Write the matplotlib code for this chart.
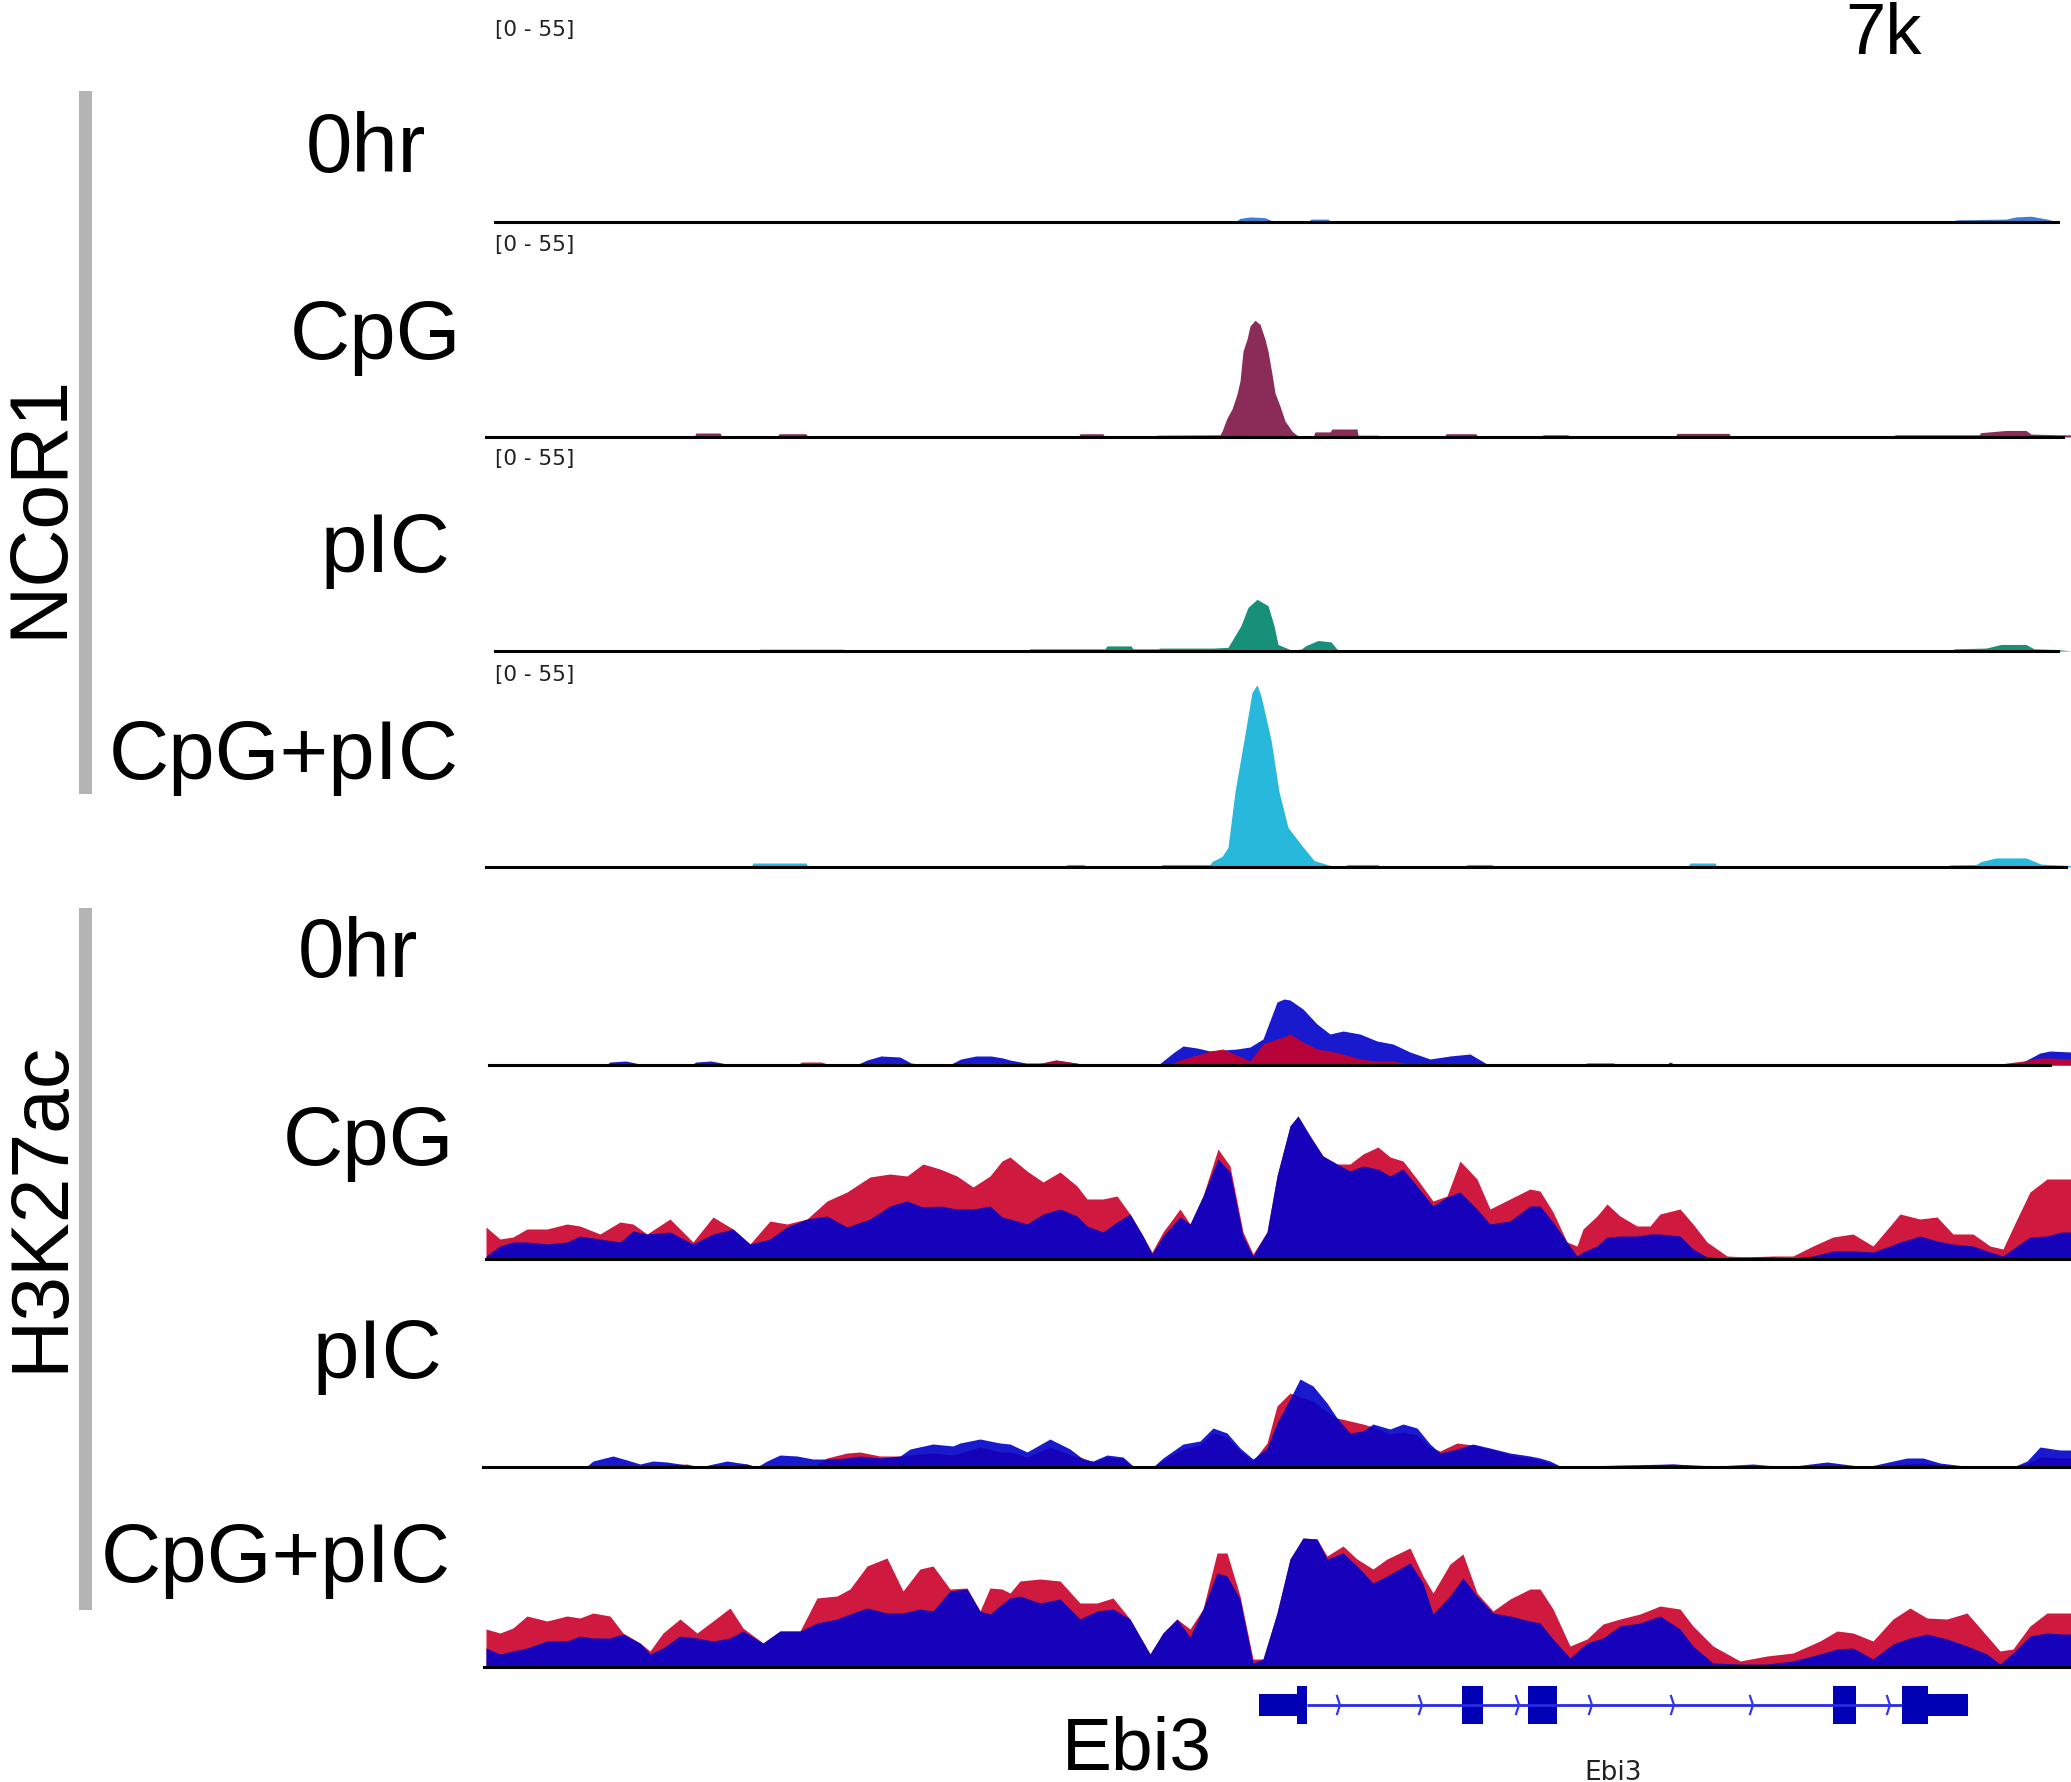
import numpy as np
import matplotlib
matplotlib.use("Agg")
import matplotlib.pyplot as plt
from matplotlib.patches import Rectangle

# ---------------- data (x = genomic bin index across the window) ----------------
# NCoR1 ChIP-seq tracks, scale [0 - 55]
ncor_0hr_pos = [0, 749, 754, 764, 779, 789, 822, 825, 842, 845, 1466, 1470, 1520, 1530, 1545, 1561, 1572, 1585]
ncor_0hr_val = [0, 0, 1.0, 1.4, 1.2, 0, 0, 0.8, 0.8, 0, 0, 0.6, 0.8, 1.4, 1.6, 0.8, 0, 0]

ncor_cpg_pos = [0, 208, 210, 234, 236, 291, 293, 320, 322, 592, 594, 617, 619, 669, 671, 734, 736, 741, 746, 751,
                754, 757, 761, 764, 769, 774, 779, 782, 786, 789, 794, 799, 806, 811, 819, 827, 829, 844, 846, 871,
                872, 892, 894, 958, 960, 990, 992, 1055, 1057, 1082, 1084, 1189, 1191, 1243, 1245, 1407, 1409, 1493,
                1495, 1520, 1540, 1545, 1575, 1585]
ncor_cpg_val = [0, 0, 1.1, 1.1, 0, 0, 0.9, 0.9, 0, 0, 0.9, 0.9, 0, 0, 0.5, 0.6, 1.6, 5.2, 7.7, 11.8,
                15.4, 23.6, 26.9, 30.5, 32.1, 31.0, 26.9, 23.6, 17.3, 12.1, 8.5, 4.4, 1.6, 0.5, 0, 0, 1.4, 1.4, 2.2, 2.2,
                0.5, 0.5, 0, 0, 0.9, 0.9, 0, 0, 0.6, 0.6, 0, 0, 1.0, 1.0, 0, 0, 0.6, 0.6,
                1.2, 1.8, 1.8, 0.8, 0.6, 0.6]

ncor_pic_pos = [0, 272, 274, 357, 359, 542, 544, 619, 621, 645, 647, 672, 674, 727, 742, 755, 762, 771, 782, 788,
                792, 805, 815, 820, 832, 845, 851, 857, 1030, 1032, 1050, 1052, 1466, 1468, 1500, 1515, 1540, 1548,
                1572, 1585]
ncor_pic_val = [0, 0, 0.5, 0.5, 0, 0, 0.6, 0.6, 1.4, 1.4, 0.6, 0.6, 0.8, 0.8, 1.0, 7.0, 12.0, 14.2, 12.5, 7.0,
                1.8, 0.3, 0.5, 1.5, 2.9, 2.5, 0.5, 0, 0, 0.4, 0.4, 0, 0, 0.6, 0.8, 1.8, 1.8, 0.6,
                0.4, 0]

ncor_cp_pos = [0, 265, 267, 320, 322, 579, 581, 598, 600, 674, 676, 724, 726, 736, 742, 749, 758, 766, 771, 775,
               785, 793, 802, 815, 828, 841, 850, 859, 861, 892, 894, 979, 981, 1006, 1008, 1202, 1204, 1229, 1231,
               1462, 1464, 1490, 1495, 1510, 1540, 1555, 1585]
ncor_cp_val = [0, 0, 1.1, 1.1, 0, 0, 0.7, 0.7, 0, 0, 0.7, 0.7, 1.5, 2.9, 5.4, 20.7, 35.0, 48.0, 50.1, 47.0,
               35.0, 20.7, 10.9, 6.2, 1.8, 0.7, 0, 0, 0.7, 0.7, 0, 0, 0.7, 0.7, 0, 0, 1.1, 1.1, 0,
               0, 0.6, 0.7, 1.5, 2.5, 2.5, 0.8, 0.4]

# H3K27ac overlay tracks (red and blue series)
h3_0hr_pos = [0, 120, 124, 140, 154, 160, 205, 210, 225, 241, 250, 310, 316, 335, 345, 370, 381, 395, 414, 425,
              440, 465, 475, 490, 505, 517, 524, 540, 556, 570, 590, 600, 672, 687, 697, 711, 724, 737, 751, 764,
              777, 791, 798, 804, 817, 831, 844, 857, 874, 891, 907, 924, 944, 964, 984, 1001, 1010, 1095, 1101, 1127,
              1135, 1180, 1184, 1190, 1510, 1521, 1537, 1554, 1564, 1585]
h3_0hr_red = [0, 0, 0, 0, 0, 0, 0, 0, 1, 0, 0, 0, 3, 3, 0, 0, 0, 0, 0, 0,
              0, 0, 1, 2, 2, 1, 0, 0, 2, 5, 2, 0, 0, 2, 6, 10, 14, 16, 10, 4,
              21, 26, 28, 31, 23, 16, 14, 11, 6, 4, 4, 1, 0, 0, 0, 0, 0, 0, 0, 0,
              0, 0, 0, 0, 0, 2, 4, 7, 7, 6]
h3_0hr_blue = [0, 0, 3, 4, 1, 0, 0, 3, 4, 1, 0, 0, 1, 1, 0, 0, 5, 9, 8, 2,
               0, 1, 6, 9, 9, 7, 5, 2, 2, 5, 2, 0, 0, 12, 19, 17, 14, 15, 16, 18,
               26, 63, 66, 65, 56, 41, 31, 34, 31, 24, 21, 13, 6, 9, 11, 1, 0, 0, 2, 2,
               0, 0, 3, 0, 0, 1, 3, 12, 14, 13]

h3_cpg_pos = [0, 14, 27, 41, 61, 81, 94, 114, 134, 147, 161, 184, 207, 227, 247, 264, 284, 301, 321, 341,
              361, 384, 404, 421, 437, 454, 471, 487, 504, 516, 524, 541, 557, 574, 591, 601, 617, 631, 644, 657,
              666, 677, 694, 704, 717, 732, 744, 757, 767, 781, 791, 804, 812, 824, 837, 851, 864, 877, 892, 904,
              917, 931, 947, 961, 974, 991, 1004, 1024, 1044, 1054, 1067, 1081, 1091, 1097, 1111, 1121, 1134, 1151,
              1164, 1174, 1194, 1207, 1221, 1241, 1261, 1287, 1307, 1327, 1347, 1367, 1387, 1404, 1414, 1434, 1451,
              1467, 1487, 1504, 1517, 1531, 1544, 1561, 1576, 1585]
h3_cpg_red = [32, 20, 22, 30, 30, 35, 33, 25, 37, 35, 25, 40, 17, 42, 30, 15, 38, 35, 40, 58,
              67, 82, 85, 83, 95, 90, 83, 72, 83, 98, 102, 88, 77, 87, 73, 60, 60, 63, 45, 23,
              7, 27, 50, 35, 63, 110, 93, 27, 5, 27, 83, 133, 143, 123, 103, 95, 95, 105, 112, 102,
              98, 80, 58, 63, 98, 80, 50, 60, 70, 68, 47, 17, 13, 30, 43, 55, 43, 33, 33, 45,
              50, 35, 17, 3, 2, 3, 3, 13, 22, 25, 13, 33, 45, 40, 42, 25, 25, 13, 10, 40,
              67, 80, 80, 80]
h3_cpg_blue = [3, 13, 17, 17, 15, 17, 23, 20, 17, 28, 25, 27, 15, 25, 30, 15, 20, 32, 40, 43,
               32, 40, 53, 58, 52, 53, 50, 50, 53, 42, 40, 35, 45, 50, 43, 33, 27, 37, 45, 23,
               5, 23, 42, 35, 63, 100, 87, 23, 3, 27, 83, 133, 143, 123, 103, 95, 88, 93, 90, 83,
               90, 73, 53, 62, 67, 50, 35, 38, 53, 53, 37, 17, 3, 7, 13, 22, 23, 23, 25, 25,
               23, 10, 2, 1, 2, 2, 1, 3, 8, 8, 7, 13, 17, 23, 18, 15, 13, 7, 3, 13,
               22, 23, 27, 27]

h3_pic_pos = [0, 100, 107, 127, 141, 154, 167, 181, 201, 214, 227, 241, 261, 271, 281, 294, 311, 327, 341, 361,
              374, 394, 414, 424, 447, 467, 474, 494, 514, 524, 541, 564, 584, 597, 607, 621, 637, 647, 657, 667,
              677, 697, 714, 727, 741, 754, 767, 781, 791, 804, 814, 827, 841, 851, 864, 877, 887, 904, 917, 931,
              944, 954, 971, 987, 1004, 1024, 1044, 1054, 1064, 1074, 1100, 1134, 1187, 1230, 1267, 1300, 1341, 1380,
              1421, 1437, 1454, 1487, 1527, 1541, 1554, 1574, 1585]
h3_pic_red = [0, 1, 0, 0, 0, 0, 0, 2, 3, 0, 0, 1, 3, 0, 0, 0, 0, 0, 9, 14,
              15, 11, 11, 12, 14, 12, 14, 20, 15, 15, 10, 20, 12, 9, 5, 10, 8, 1, 0, 0,
              7, 18, 22, 34, 30, 16, 6, 24, 61, 74, 70, 66, 55, 49, 46, 43, 40, 33, 35, 32,
              20, 16, 24, 22, 18, 12, 9, 7, 4, 0, 1, 1, 3, 0, 1, 0, 1, 0,
              3, 4, 2, 1, 0, 3, 10, 9, 9]
h3_pic_blue = [0, 0, 6, 11, 7, 3, 6, 5, 2, 0, 3, 6, 3, 0, 6, 12, 11, 8, 8, 9,
               11, 9, 11, 18, 23, 21, 24, 28, 24, 23, 15, 28, 18, 8, 6, 12, 10, 1, 0, 0,
               9, 23, 26, 39, 34, 19, 8, 19, 44, 68, 88, 81, 64, 49, 34, 36, 43, 38, 43, 39,
               23, 14, 18, 23, 19, 14, 11, 9, 6, 1, 1, 2, 3, 1, 3, 0, 5, 0,
               9, 9, 4, 0, 0, 6, 20, 17, 17]

h3_cp_pos = [0, 14, 27, 41, 61, 81, 94, 107, 124, 137, 154, 164, 177, 194, 211, 227, 244, 257, 277, 294,
             314, 331, 351, 364, 381, 401, 417, 434, 447, 464, 481, 494, 504, 516, 524, 534, 554, 574, 594, 611,
             627, 644, 664, 677, 691, 704, 717, 731, 741, 754, 767, 777, 791, 804, 817, 831, 841, 857, 871, 887,
             901, 924, 937, 947, 964, 977, 991, 1007, 1024, 1044, 1054, 1067, 1084, 1101, 1117, 1134, 1154, 1174,
             1194, 1207, 1227, 1254, 1281, 1307, 1334, 1351, 1367, 1387, 1407, 1424, 1441, 1461, 1481, 1501, 1514,
             1527, 1544, 1561, 1576, 1585]
h3_cp_red = [38, 34, 39, 51, 46, 51, 49, 54, 51, 34, 24, 16, 34, 48, 34, 46, 59, 39, 24, 36,
             36, 69, 71, 78, 101, 109, 76, 98, 101, 78, 79, 56, 79, 78, 74, 86, 88, 86, 64, 64,
             69, 48, 13, 34, 48, 38, 58, 114, 114, 71, 8, 8, 54, 108, 129, 128, 111, 121, 108, 98,
             108, 119, 91, 74, 103, 113, 74, 56, 68, 78, 78, 58, 21, 28, 43, 48, 53, 61, 58, 41,
             21, 6, 11, 14, 26, 36, 34, 26, 48, 59, 49, 48, 54, 31, 16, 18, 41, 54, 54, 54]
h3_cp_blue = [19, 13, 16, 19, 26, 26, 31, 29, 29, 33, 24, 13, 19, 31, 29, 26, 29, 36, 24, 36,
              36, 44, 48, 53, 59, 54, 54, 58, 56, 76, 78, 56, 53, 63, 69, 71, 64, 68, 48, 56,
              58, 48, 13, 34, 48, 30, 58, 94, 91, 68, 4, 8, 54, 108, 129, 128, 108, 114, 101, 84,
              91, 104, 84, 53, 71, 89, 71, 54, 51, 46, 44, 28, 9, 24, 29, 41, 44, 51, 38, 21,
              4, 3, 3, 6, 13, 18, 19, 8, 23, 29, 33, 28, 21, 13, 3, 14, 31, 34, 33, 33]

# Gene model (Ebi3)
gene_utr_blocks = [(773, 811), (1442, 1482)]
gene_cds_blocks = [(811, 821), (976, 997), (1042, 1071), (1347, 1370), (1416, 1442)]
gene_span = (821, 1416)
gene_chevrons = [854, 936, 1033, 1106, 1188, 1267, 1404]

ncor_labels = ["0hr", "CpG", "pIC", "CpG+pIC"]
h3_labels = ["0hr", "CpG", "pIC", "CpG+pIC"]
scale_label = "[0 - 55]"

# ---------------- layout helpers ----------------
W, H = 2071, 1783
fig = plt.figure(figsize=(W / 100, H / 100), dpi=100)
XMAX = 1585


def px_axes(x0, y0, x1, y1):
    ax = fig.add_axes([x0 / W, 1 - y1 / H, (x1 - x0) / W, (y1 - y0) / H])
    ax.set_axis_off()
    ax.set_xlim(0, XMAX)
    return ax


def fx(x):
    return x / W


def fy(y):
    return 1 - y / H


LBL = ["Liberation Sans", "DejaVu Sans"]
LABEL_SIZE = 60

# ---------------- NCoR1 tracks ----------------
ncor_tracks = [
    (ncor_0hr_pos, ncor_0hr_val, "#3F7ED2", 223, 495, 2058),
    (ncor_cpg_pos, ncor_cpg_val, "#8A2B58", 438, 486, 2063),
    (ncor_pic_pos, ncor_pic_val, "#17907A", 652, 495, 2058),
    (ncor_cp_pos, ncor_cp_val, "#27B8DC", 868, 486, 2066),
]
ncor_label_pos = [(426, 172), (461, 359), (450, 572), (459, 779)]

for (pos, val, col, base, bx0, bx1), lab, (lx, ly) in zip(ncor_tracks, ncor_labels, ncor_label_pos):
    ax = px_axes(486, base - 200, 486 + XMAX, base)
    ax.set_ylim(0, 55)
    ax.fill_between(pos, 0, val, color=col, linewidth=0)
    ax.axhline(0, xmin=(bx0 - 486) / XMAX, xmax=(bx1 - 486) / XMAX, color="black", lw=2.2, zorder=5,
               clip_on=False)
    fig.text(fx(495), fy(base - 193), scale_label, fontsize=15.5, color="#222222",
             family=["DejaVu Sans"], ha="left", va="center")
    fig.text(fx(lx), fy(ly), lab, fontsize=LABEL_SIZE, family=LBL, ha="right", va="baseline")

# ---------------- H3K27ac tracks ----------------
RED = (203 / 255, 0, 42 / 255)
BLUE = (0, 0, 200 / 255)
h3_tracks = [
    (h3_0hr_pos, h3_0hr_red, h3_0hr_blue, 1066, 489, 2050, "red_on_top"),
    (h3_cpg_pos, h3_cpg_red, h3_cpg_blue, 1260, 486, 2071, "blue_on_top"),
    (h3_pic_pos, h3_pic_red, h3_pic_blue, 1468, 483, 2071, "blue_on_top"),
    (h3_cp_pos, h3_cp_red, h3_cp_blue, 1668, 484, 2071, "blue_on_top"),
]
h3_label_pos = [(418, 977), (454, 1165), (443, 1378), (451, 1582)]

for (pos, red, blue, base, bx0, bx1, order), lab, (lx, ly) in zip(h3_tracks, h3_labels, h3_label_pos):
    ax = px_axes(486, base - 160, 486 + XMAX, base)
    ax.set_ylim(0, 160)
    if order == "red_on_top":
        ax.fill_between(pos, 0, blue, color=BLUE, alpha=0.9, linewidth=0)
        ax.fill_between(pos, 0, red, color=RED, alpha=0.9, linewidth=0)
    else:
        ax.fill_between(pos, 0, red, color=RED, alpha=0.9, linewidth=0)
        ax.fill_between(pos, 0, blue, color=BLUE, alpha=0.9, linewidth=0)
    ax.axhline(0, xmin=(bx0 - 486) / XMAX, xmax=(bx1 - 486) / XMAX, color="black", lw=2.2, zorder=5,
               clip_on=False)
    fig.text(fx(lx), fy(ly), lab, fontsize=LABEL_SIZE, family=LBL, ha="right", va="baseline")

# ---------------- gene model ----------------
gax = px_axes(486, 1676, 486 + XMAX, 1736)
gax.set_ylim(-1.5, 1.5)
GENE = "#0000B4"
gax.plot(gene_span, [0, 0], color="#2A2AE6", lw=2.0, solid_capstyle="butt")
for s, e in gene_utr_blocks:
    gax.add_patch(Rectangle((s, -0.55), e - s, 1.1, facecolor=GENE, edgecolor="none"))
for s, e in gene_cds_blocks:
    gax.add_patch(Rectangle((s, -0.95), e - s, 1.9, facecolor=GENE, edgecolor="none"))
for c in gene_chevrons:
    gax.plot([c - 3, c, c - 3], [0.45, 0, -0.45], color="#3535F0", lw=1.6)

# ---------------- texts & group bars ----------------
fig.add_artist(Rectangle((fx(79), fy(795)), 13 / W, (795 - 92) / H, transform=fig.transFigure,
                         facecolor="#B4B4B4", edgecolor="none"))
fig.add_artist(Rectangle((fx(79), fy(1611)), 13 / W, (1611 - 909) / H, transform=fig.transFigure,
                         facecolor="#B4B4B4", edgecolor="none"))
fig.text(fx(61), fy(506), "NCoR1", fontsize=58, family=LBL, rotation=90, rotation_mode="anchor",
         ha="center", va="baseline")
fig.text(fx(62), fy(1206), "H3K27ac", fontsize=58, family=LBL, rotation=90, rotation_mode="anchor",
         ha="center", va="baseline")
fig.text(fx(1845), fy(54), "7k", fontsize=52, family=LBL, ha="left", va="baseline")
fig.text(fx(1212), fy(1770), "Ebi3", fontsize=54, family=LBL, ha="right", va="baseline")
fig.text(fx(1613), fy(1780), "Ebi3", fontsize=19, family=["DejaVu Sans"], color="#222222",
         ha="center", va="baseline")

fig.savefig("out.png", dpi=100, facecolor="white")
